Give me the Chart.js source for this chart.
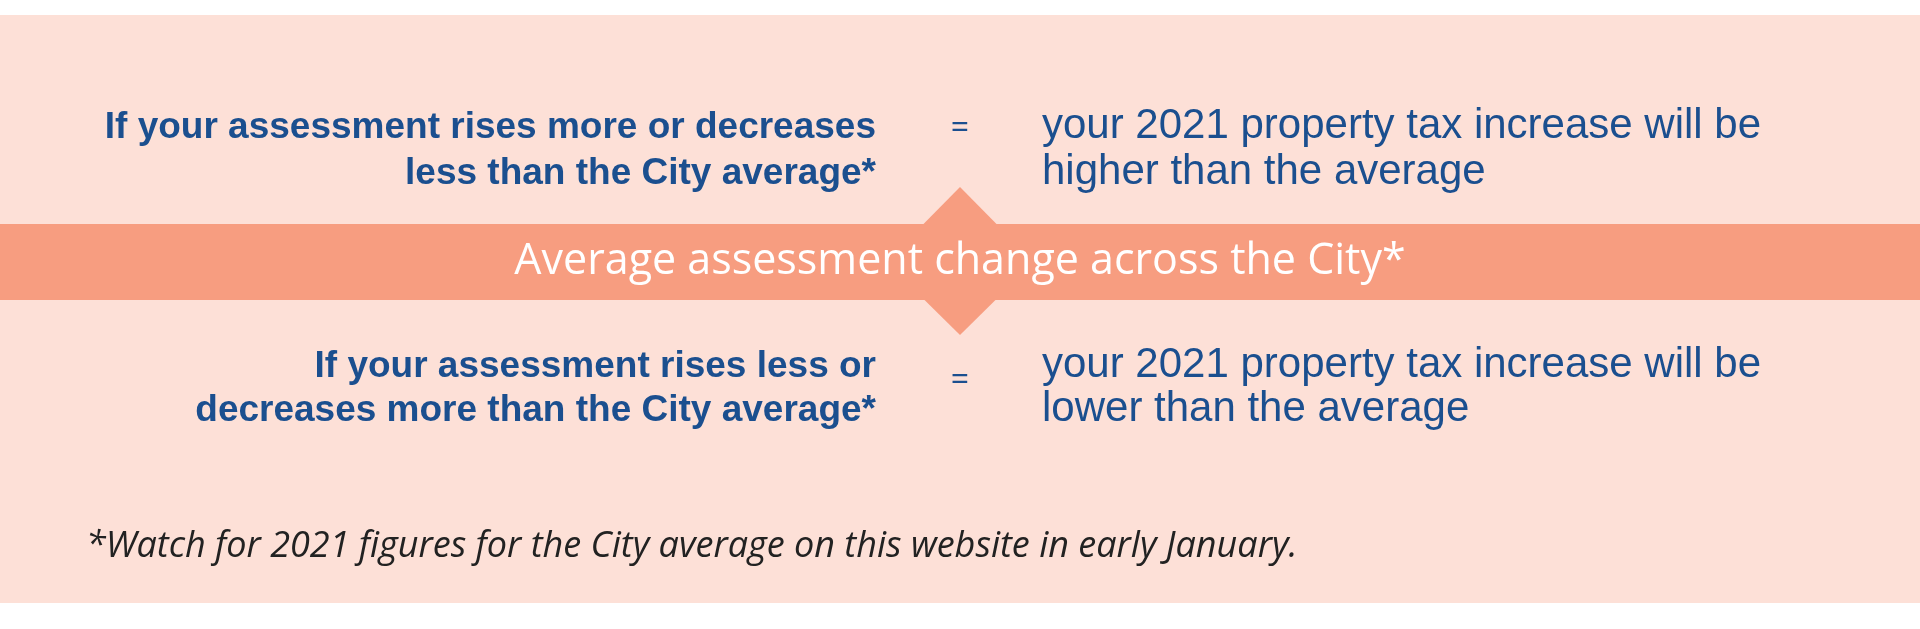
<!DOCTYPE html>
<html>
<head>
<meta charset="utf-8">
<script src="https://cdn.jsdelivr.net/npm/chart.js@4"></script>
<style>
  html, body { margin: 0; padding: 0; background: #fff; }
  #wrap { width: 1920px; height: 629px; }
</style>
</head>
<body>
<div id="wrap"><canvas id="info"></canvas></div>
<script>
const upperLeft = ['If your assessment rises more or decreases', 'less than the City average*'];
const upperRight = ['your 2021 property tax increase will be', 'higher than the average'];
const lowerLeft = ['If your assessment rises less or', 'decreases more than the City average*'];
const lowerRight = ['your 2021 property tax increase will be', 'lower than the average'];
const bandLabel = 'Average assessment change across the City*';
const footnote = '*Watch for 2021 figures for the City average on this website in early January.';

const BLUE = '#1b4f8f';

const infographic = {
  id: 'infographic',
  beforeDraw(chart) {
    const c = chart.ctx;
    const W = chart.width;
    c.save();
    c.fillStyle = '#fde0d7';
    c.fillRect(0, 15, W, 588);

    // band with diamond
    c.fillStyle = '#f79d80';
    c.fillRect(0, 224, W, 76);
    c.beginPath();
    c.moveTo(960, 187);
    c.lineTo(1034, 262);
    c.lineTo(960, 335);
    c.lineTo(886, 262);
    c.closePath();
    c.fill();

    c.fillStyle = '#fff';
    c.font = '43px "Open Sans"';
    c.textAlign = 'center';
    c.textBaseline = 'middle';
    c.fillText(bandLabel, 960, 262);

    const block = (left, right, y1, y2, eqY) => {
      c.fillStyle = BLUE;
      c.textBaseline = 'alphabetic';
      c.font = 'bold 37px "Liberation Sans"';
      c.textAlign = 'right';
      c.fillText(left[0], 876, y1);
      c.fillText(left[1], 876, y2);
      c.font = '32px "Open Sans"';
      c.textAlign = 'center';
      c.fillText('=', 960, eqY);
      c.font = '42px "Liberation Sans"';
      c.textAlign = 'left';
      c.fillText(right[0], 1042, y1);
      c.fillText(right[1], 1042, y2);
    };
    block(upperLeft, upperRight, 138, 184, 138);
    block(lowerLeft, lowerRight, 377, 421, 390);

    c.fillStyle = '#222';
    c.font = 'italic 36px "Open Sans"';
    c.textAlign = 'left';
    c.fillText(footnote, 86, 557);
    c.restore();
  }
};

new Chart(document.getElementById('info'), {
  type: 'scatter',
  data: { datasets: [{ data: [] }] },
  options: {
    responsive: true,
    maintainAspectRatio: false,
    animation: false,
    plugins: { legend: { display: false }, tooltip: { enabled: false } },
    scales: { x: { display: false }, y: { display: false } }
  },
  plugins: [infographic]
});
</script>
</body>
</html>
